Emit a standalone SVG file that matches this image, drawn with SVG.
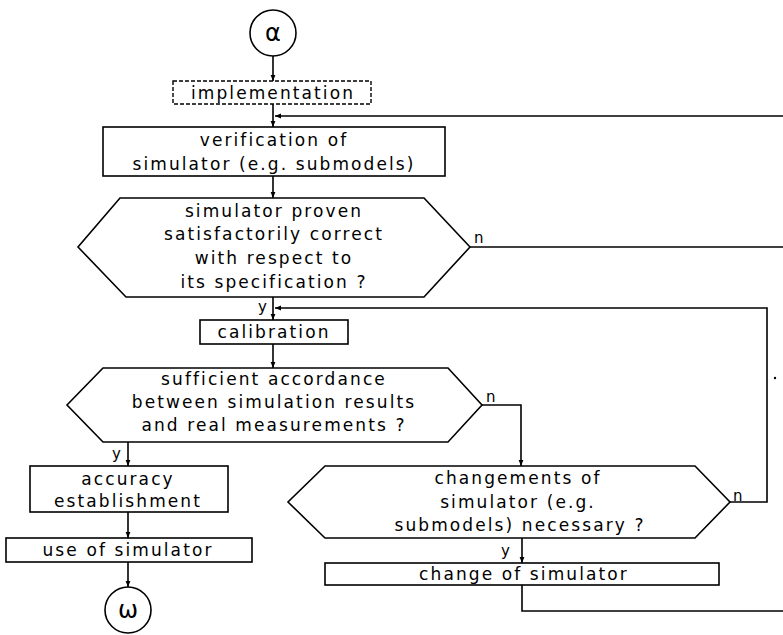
<svg xmlns="http://www.w3.org/2000/svg" width="783" height="635" viewBox="0 0 783 635">
<defs>
<marker id="ah" viewBox="0 0 10 10" refX="10" refY="5" markerWidth="6" markerHeight="6" orient="auto" markerUnits="userSpaceOnUse">
<path d="M0,1 L10,5 L0,9 Z" fill="#000"/>
</marker>
<style>
.s{fill:none;stroke:#000;stroke-width:1.6}
.b{fill:#fff;stroke:#000;stroke-width:1.6}
.d{fill:#fff;stroke:#000;stroke-width:1.4;stroke-dasharray:4,2}
.t{font-family:"DejaVu Sans","Liberation Sans",sans-serif;font-size:17px;letter-spacing:2.1px;fill:#000;text-anchor:middle}
.l{font-family:"DejaVu Sans","Liberation Sans",sans-serif;font-size:15px;fill:#000}
.g{font-family:"DejaVu Sans","Liberation Sans",sans-serif;font-size:24px;fill:#000;text-anchor:middle}
</style>
</defs>
<rect width="783" height="635" fill="#fff"/>
<g id="connectors" class="s">
<line x1="273" y1="56" x2="273" y2="81" marker-end="url(#ah)"/>
<line x1="273" y1="104" x2="273" y2="127" marker-end="url(#ah)"/>
<line x1="783" y1="116" x2="275" y2="116" marker-end="url(#ah)"/>
<line x1="273" y1="176" x2="273" y2="198" marker-end="url(#ah)"/>
<line x1="470" y1="247" x2="783" y2="247"/>
<line x1="273" y1="297" x2="273" y2="320" marker-end="url(#ah)"/>
<polyline points="730,502 767,502 767,308 275,308" marker-end="url(#ah)"/>
<line x1="273" y1="344" x2="273" y2="368" marker-end="url(#ah)"/>
<polyline points="482,405 521,405 521,466" marker-end="url(#ah)"/>
<line x1="128" y1="442" x2="128" y2="466" marker-end="url(#ah)"/>
<line x1="128" y1="512" x2="128" y2="538" marker-end="url(#ah)"/>
<line x1="128" y1="562" x2="128" y2="587" marker-end="url(#ah)"/>
<line x1="522" y1="538" x2="522" y2="563" marker-end="url(#ah)"/>
<polyline points="522,585 522,611 783,611"/>
</g>
<g id="labels">
<text class="l" x="474" y="243">n</text>
<text class="l" x="258" y="312">y</text>
<text class="l" x="486" y="402">n</text>
<text class="l" x="112" y="459">y</text>
<text class="l" x="733" y="501">n</text>
<text class="l" x="501" y="556">y</text>
</g>
<g id="alpha">
<circle class="b" cx="273" cy="33" r="23"/>
<text class="g" x="273" y="41">α</text>
</g>
<g id="implementation">
<rect class="d" x="173" y="81" width="198" height="23"/>
<text class="t" x="273" y="99">implementation</text>
</g>
<g id="verification">
<rect class="b" x="103" y="127" width="342" height="49"/>
<text class="t" x="274" y="146">verification of</text>
<text class="t" x="274" y="170">simulator (e.g. submodels)</text>
</g>
<g id="decision1">
<polygon class="b" points="120,198 424,198 470,247 424,297 126,297 78,247"/>
<text class="t" x="274" y="217">simulator proven</text>
<text class="t" x="274" y="240">satisfactorily correct</text>
<text class="t" x="274" y="264">with respect to</text>
<text class="t" x="274" y="288">its specification ?</text>
</g>
<g id="calibration">
<rect class="b" x="200" y="320" width="148" height="24"/>
<text class="t" x="274" y="338">calibration</text>
</g>
<g id="decision2">
<polygon class="b" points="103,368 448,368 482,405 448,442 103,442 67,405"/>
<text class="t" x="274" y="385">sufficient accordance</text>
<text class="t" x="274" y="408">between simulation results</text>
<text class="t" x="274" y="431">and real measurements ?</text>
</g>
<g id="accuracy">
<rect class="b" x="30" y="466" width="198" height="46"/>
<text class="t" x="128" y="485">accuracy</text>
<text class="t" x="128" y="507">establishment</text>
</g>
<g id="use">
<rect class="b" x="6" y="538" width="246" height="24"/>
<text class="t" x="128" y="556">use of simulator</text>
</g>
<g id="omega">
<circle class="b" cx="128" cy="610" r="23"/>
<text class="g" x="128" y="618">ω</text>
</g>
<g id="decision3">
<polygon class="b" points="325,466 695,466 730,502 695,538 325,538 288,502"/>
<text class="t" x="518" y="484">changements of</text>
<text class="t" x="518" y="508">simulator (e.g.</text>
<text class="t" x="520" y="531">submodels) necessary ?</text>
</g>
<g id="change">
<rect class="b" x="325" y="563" width="394" height="22"/>
<text class="t" x="524" y="580">change of simulator</text>
</g>
<circle cx="775" cy="378" r="1.2" fill="#000"/>
</svg>
